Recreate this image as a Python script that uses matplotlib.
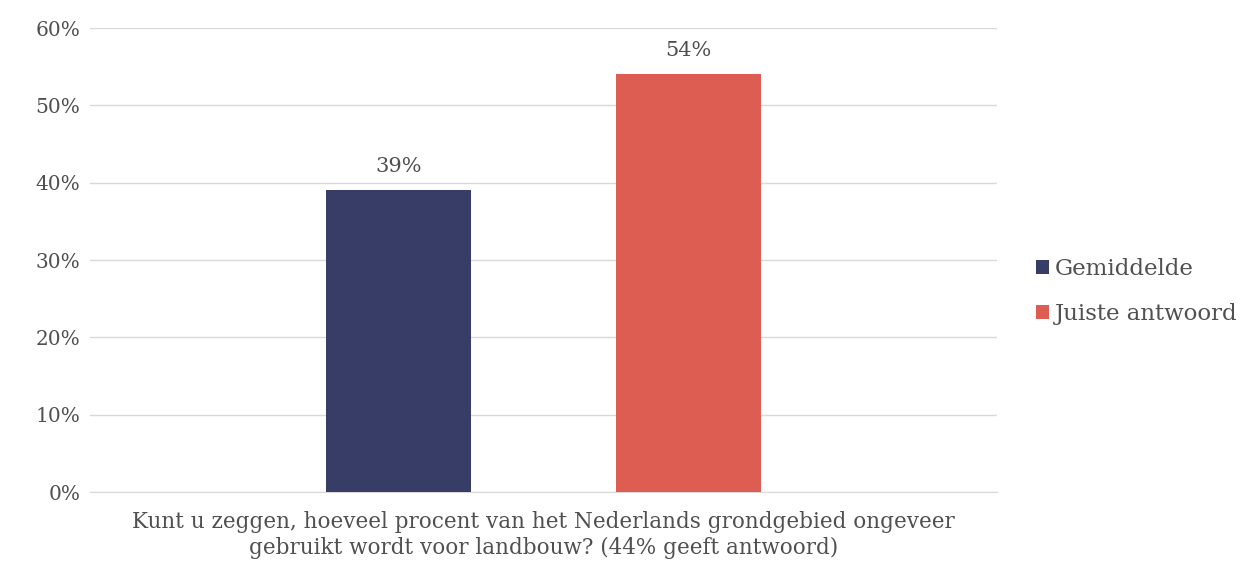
import matplotlib
matplotlib.use("Agg")
import matplotlib.pyplot as plt
from matplotlib.ticker import FuncFormatter

series = ["Gemiddelde", "Juiste antwoord"]
values = [39, 54]
colors = ["#383D67", "#DE5D52"]
xlabel = "Kunt u zeggen, hoeveel procent van het Nederlands grondgebied ongeveer\ngebruikt wordt voor landbouw? (44% geeft antwoord)"

plt.rcParams['font.family'] = ['DejaVu Serif']
txt = "#505050"

fig = plt.figure(figsize=(12.47, 5.66), dpi=100)
ax = fig.add_axes([0.0722, 0.1307, 0.7273, 0.8198])

offsets = [-0.16, 0.16]
width = 0.16
for off, v, c, s in zip(offsets, values, colors, series):
    ax.bar(off, v, width=width, color=c, label=s, zorder=3)
    ax.text(off, v + 1.8, f"{v}%", ha="center", va="bottom", fontsize=15, color=txt)

ax.set_xlim(-0.5, 0.5)
ax.set_ylim(0, 60)
ax.set_yticks(range(0, 61, 10))
ax.yaxis.set_major_formatter(FuncFormatter(lambda y, p: f"{int(y)}%"))
ax.grid(axis="y", color="#D9D9D9", linewidth=1, zorder=0)
for sp in ["top", "right", "left"]:
    ax.spines[sp].set_visible(False)
ax.spines["bottom"].set_color("#D9D9D9")
ax.tick_params(axis="y", length=0, labelsize=14.5, labelcolor=txt, pad=7)
ax.set_xticks([0])
ax.set_xticklabels([xlabel], fontsize=15.5, color=txt, linespacing=1.2)
ax.tick_params(axis="x", length=0, pad=14)

leg = fig.legend(loc="center left", bbox_to_anchor=(0.814, 0.485), frameon=False,
                 fontsize=16.5, handlelength=0.6, handleheight=0.6, handletextpad=0.25,
                 labelspacing=1.0)
for t in leg.get_texts():
    t.set_color(txt)

fig.savefig("out.png", dpi=100)
